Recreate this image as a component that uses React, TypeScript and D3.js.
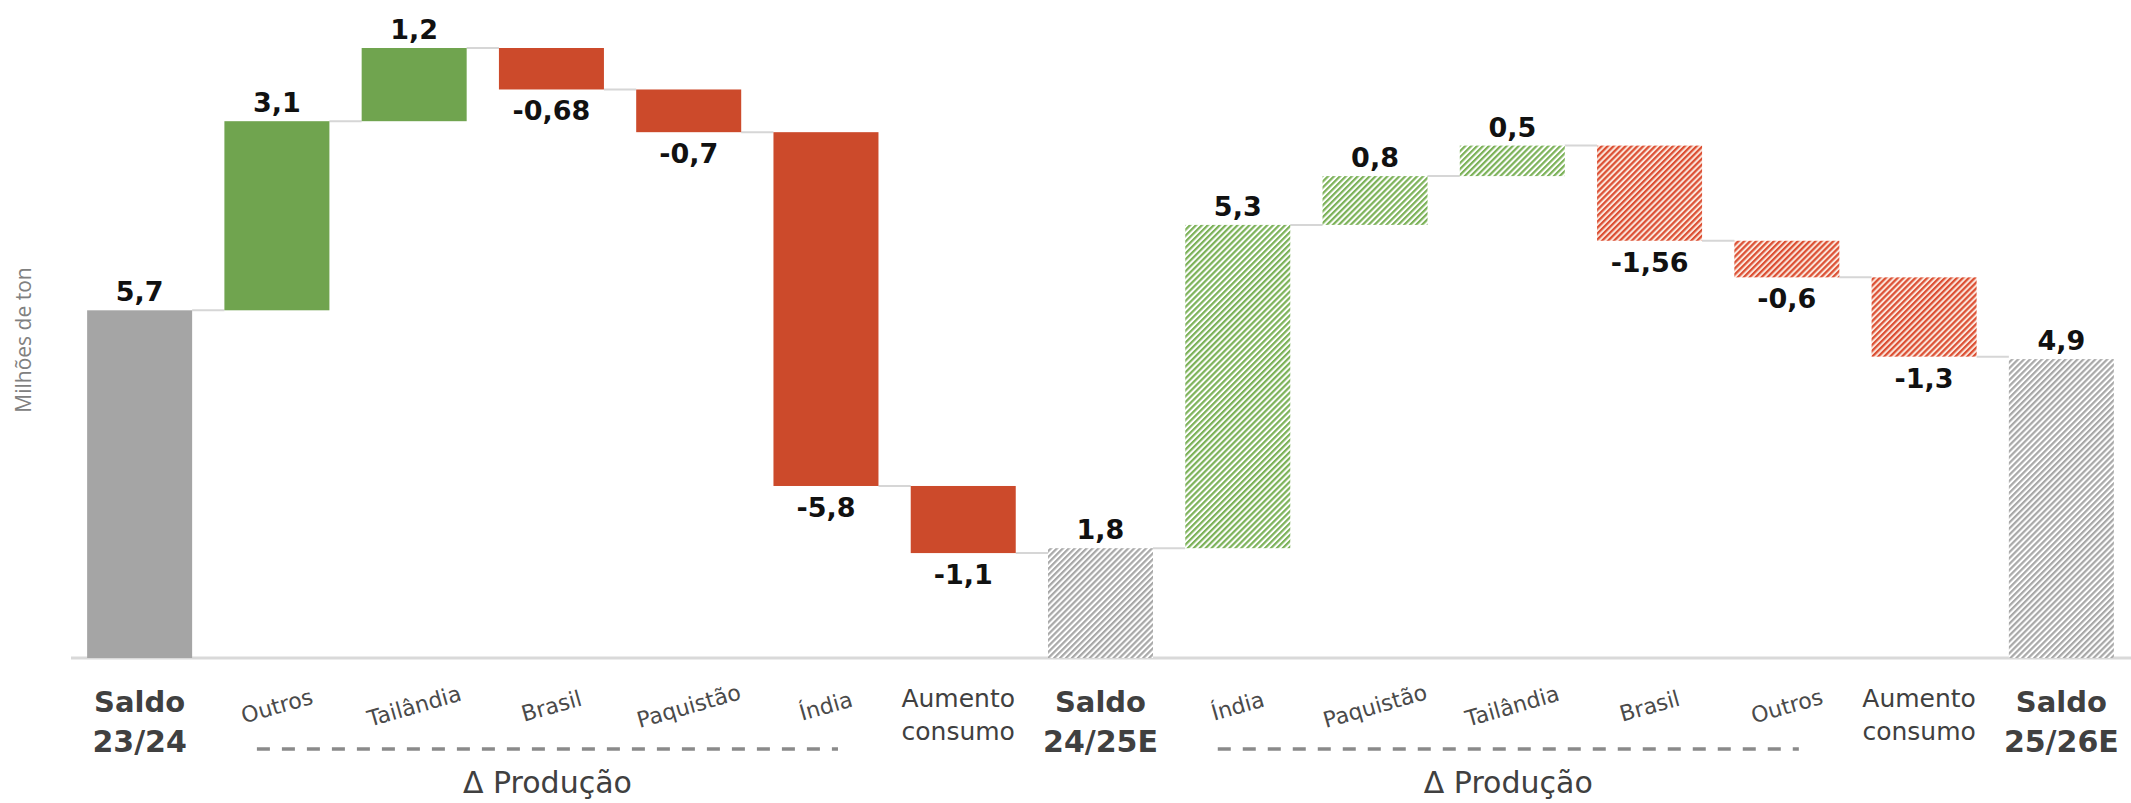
import React from "react";
import * as d3 from "d3";

const categories = [
  "Saldo 23/24", "Outros", "Tailândia", "Brasil", "Paquistão", "Índia", "Aumento consumo",
  "Saldo 24/25E", "Índia", "Paquistão", "Tailândia", "Brasil", "Outros", "Aumento consumo", "Saldo 25/26E",
];
const values = [5.7, 3.1, 1.2, -0.68, -0.7, -5.8, -1.1, 1.8, 5.3, 0.8, 0.5, -1.56, -0.6, -1.3, 4.9];
const kinds = ["total", "delta", "delta", "delta", "delta", "delta", "delta", "total", "delta", "delta", "delta", "delta", "delta", "delta", "total"];
const projected = [false, false, false, false, false, false, false, true, true, true, true, true, true, true, true];
const tickLines = [
  ["Saldo", "23/24"], ["Outros"], ["Tailândia"], ["Brasil"], ["Paquistão"], ["Índia"], ["Aumento", "consumo"],
  ["Saldo", "24/25E"], ["Índia"], ["Paquistão"], ["Tailândia"], ["Brasil"], ["Outros"], ["Aumento", "consumo"], ["Saldo", "25/26E"],
];
const groups = [
  { label: "Δ Produção", from: 1, to: 5 },
  { label: "Δ Produção", from: 8, to: 12 },
];
const yAxisTitle = "Milhões de ton";

const W = 2131, H = 803;
const FONT = "'DejaVu Sans', sans-serif";

export default function App() {
  const x = d3.scaleBand<number>().domain(d3.range(categories.length)).range([71, 2130]).paddingInner(0.235).paddingOuter(0.1175);
  const y = d3.scaleLinear().domain([0, 10]).range([658, 48]);
  const bw = x.bandwidth();

  let run = 0;
  const bars = values.map((v, i) => {
    let start: number, end: number;
    if (kinds[i] === "total") { start = 0; end = v; run = v; }
    else { start = run; end = run + v; run = end; }
    return { i, v, start, end, kind: kinds[i], proj: projected[i] };
  });

  const fillFor = (b: any) => {
    if (b.kind === "total") return b.proj ? "url(#hatchGray)" : "#a5a5a5";
    if (b.v >= 0) return b.proj ? "url(#hatchGreen)" : "#70a44f";
    return b.proj ? "url(#hatchRed)" : "#cc4a2b";
  };
  const fmt = (v: number) => String(v).replace(".", ",");

  return (
    <svg width={W} height={H} style={{ position: "absolute", left: 0, top: 0, background: "#fff" }}>
      <defs>
        <pattern id="hatchGreen" width={4.2} height={4.2} patternUnits="userSpaceOnUse" patternTransform="rotate(45)">
          <rect width={4.2} height={4.2} fill="#ffffff" />
          <rect width={2.2} height={4.2} fill="#7cb259" />
        </pattern>
        <pattern id="hatchRed" width={4.2} height={4.2} patternUnits="userSpaceOnUse" patternTransform="rotate(45)">
          <rect width={4.2} height={4.2} fill="#fbe6dc" />
          <rect width={2.2} height={4.2} fill="#dc4f33" />
        </pattern>
        <pattern id="hatchGray" width={4.2} height={4.2} patternUnits="userSpaceOnUse" patternTransform="rotate(45)">
          <rect width={4.2} height={4.2} fill="#ffffff" />
          <rect width={2.2} height={4.2} fill="#a8a8a8" />
        </pattern>
      </defs>

      {/* baseline */}
      <line x1={71} x2={W} y1={y(0)} y2={y(0)} stroke="#d9d9d9" strokeWidth={3} />

      {/* connectors */}
      {bars.slice(0, -1).map((b, i) => (
        <line key={"c" + i} x1={(x(i) as number) + bw} x2={x(i + 1) as number}
          y1={y(b.end)} y2={y(b.end)} stroke="#d6d6d6" strokeWidth={2} />
      ))}

      {/* bars */}
      {bars.map((b) => {
        const top = y(Math.max(b.start, b.end));
        const bot = y(Math.min(b.start, b.end));
        return <rect key={"b" + b.i} x={x(b.i)} y={top} width={bw} height={bot - top} fill={fillFor(b)} />;
      })}

      {/* value labels */}
      {bars.map((b) => {
        const cx = (x(b.i) as number) + bw / 2;
        const above = b.kind === "total" || b.v >= 0;
        const yy = above ? y(Math.max(b.start, b.end)) - 9 : y(Math.min(b.start, b.end)) + 31;
        return (
          <text key={"v" + b.i} x={cx} y={yy} textAnchor="middle" fontFamily={FONT} fontWeight={700} fontSize={27} fill="#111">
            {fmt(b.v)}
          </text>
        );
      })}

      {/* category labels */}
      {tickLines.map((lines, i) => {
        const cx = (x(i) as number) + bw / 2;
        if (kinds[i] === "total") {
          return (
            <text key={"t" + i} textAnchor="middle" fontFamily={FONT} fontWeight={700} fontSize={29} fill="#404040">
              <tspan x={cx} y={712}>{lines[0]}</tspan>
              <tspan x={cx} y={752} fontSize={30}>{lines[1]}</tspan>
            </text>
          );
        }
        if (lines.length > 1) {
          return (
            <text key={"t" + i} textAnchor="middle" fontFamily={FONT} fontSize={25} fill="#404040">
              <tspan x={cx - 5} y={707}>{lines[0]}</tspan>
              <tspan x={cx - 5} y={740}>{lines[1]}</tspan>
            </text>
          );
        }
        return (
          <text key={"t" + i} x={cx} y={706} dy="0.35em" textAnchor="middle" fontFamily={FONT} fontSize={22}
            fill="#4a4a4a" transform={`rotate(-16, ${cx}, 706)`}>
            {lines[0]}
          </text>
        );
      })}

      {/* group brackets */}
      {groups.map((g, k) => {
        const x1 = (x(g.from) as number) + bw / 2 - 20;
        const x2 = (x(g.to) as number) + bw / 2 + 12;
        return (
          <g key={"g" + k}>
            <line x1={x1} x2={x2} y1={749} y2={749} stroke="#8a8a8a" strokeWidth={3.5} strokeDasharray="13 12" />
            <text x={(x1 + x2) / 2} y={793} textAnchor="middle" fontFamily={FONT} fontSize={30} fill="#404040">
              {g.label}
            </text>
          </g>
        );
      })}

      {/* y-axis title */}
      <text transform={`translate(31, 340) rotate(-90)`} textAnchor="middle" fontFamily="'Open Sans', sans-serif"
        fontSize={21} fill="#808080">
        {yAxisTitle}
      </text>
    </svg>
  );
}
